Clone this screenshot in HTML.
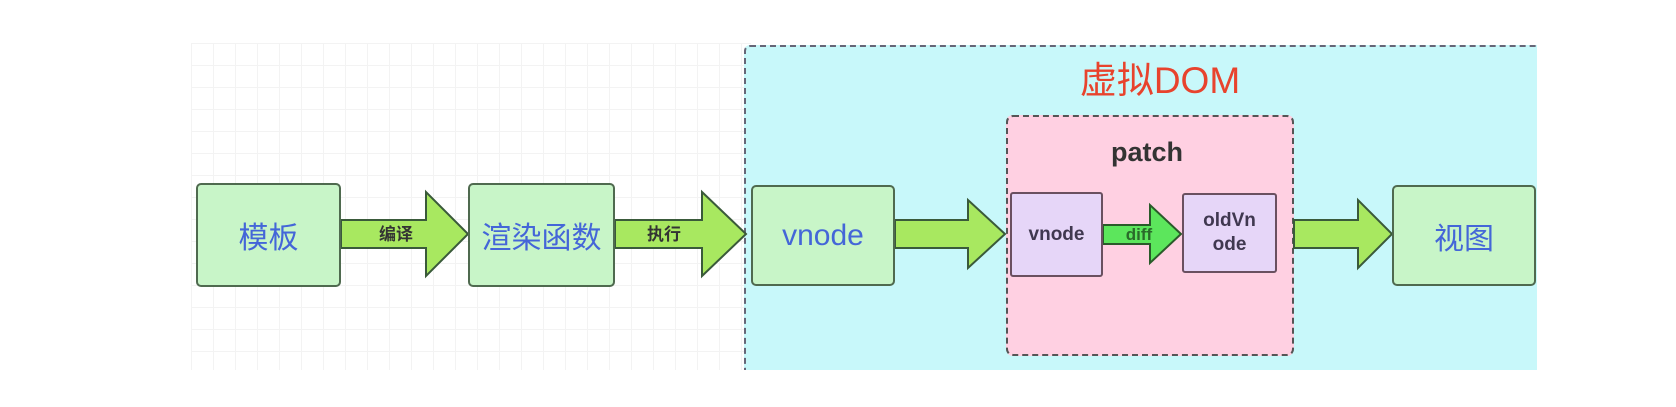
<!DOCTYPE html>
<html><head><meta charset="utf-8">
<style>
html,body{margin:0;padding:0;background:#fff;}
body{width:1676px;height:407px;position:relative;overflow:hidden;font-family:"Liberation Sans","Noto Sans CJK SC",sans-serif;}
.grid{position:absolute;left:191px;top:43px;width:560px;height:327px;
background-image:linear-gradient(#eee 1px,transparent 1px),linear-gradient(90deg,#eee 1px,transparent 1px);background-size:22px 22px;opacity:.7}
.abs{position:absolute;box-sizing:border-box}
.g{background:#c8f5c8;border:2px solid #4f6a4f;border-radius:5px;display:flex;align-items:center;justify-content:center;color:#4466d8;font-size:30px}
.p{background:#e6d6f8;border:2px solid #6a5060;border-radius:3px;display:flex;align-items:center;justify-content:center;color:#403850;font-size:19px;font-weight:bold;text-align:center;line-height:1.25}
</style></head><body>
<div class="grid"></div>
<div class="abs" style="left:744px;top:45px;width:793px;height:325px;background:#c8f8fa;border-top:2px dashed #667;border-left:2px dashed #667;border-top-left-radius:6px"></div>
<div class="abs" style="left:1010px;top:50px;width:300px;text-align:center;color:#e8432d;font-size:37px">虚拟DOM</div>
<div class="abs" style="left:1006px;top:115px;width:288px;height:241px;background:#ffd0e2;border:2px dashed #555;border-radius:7px"></div>
<div class="abs" style="left:1047px;top:137px;width:200px;text-align:center;color:#333;font-size:27px;font-weight:bold">patch</div>

<svg class="abs" style="left:0;top:0" width="1676" height="407">
<g fill="#a8e860" stroke="#3a5a3a" stroke-width="2">
<polygon points="341,220 426,220 426,192 468,234 426,276 426,248 341,248"/>
<polygon points="615,220 702,220 702,192 746,234 702,276 702,248 615,248"/>
<polygon points="895,220 968,220 968,200 1005,234 968,268 968,248 895,248"/>
<polygon points="1294,220 1358,220 1358,200 1392,234 1358,268 1358,248 1294,248"/>
</g>
<polygon points="1103,225 1150,225 1150,205 1181,234 1150,263 1150,244 1103,244" fill="#5ce65c" stroke="#2a5a2a" stroke-width="2"/>
<g font-family="Liberation Sans,Noto Sans CJK SC,sans-serif" font-size="17" fill="#333" font-weight="bold" text-anchor="middle">
<text x="396" y="240">编译</text>
<text x="664" y="240">执行</text>
<text x="1139" y="240" fill="#2a6a2a">diff</text>
</g>
</svg>

<div class="abs g" style="left:196px;top:183px;width:145px;height:104px">模板</div>
<div class="abs g" style="left:468px;top:183px;width:147px;height:104px">渲染函数</div>
<div class="abs g" style="left:751px;top:185px;width:144px;height:101px">vnode</div>
<div class="abs g" style="left:1392px;top:185px;width:144px;height:101px">视图</div>
<div class="abs p" style="left:1010px;top:192px;width:93px;height:85px">vnode</div>
<div class="abs p" style="left:1182px;top:193px;width:95px;height:80px">oldVn<br>ode</div>
</body></html>
